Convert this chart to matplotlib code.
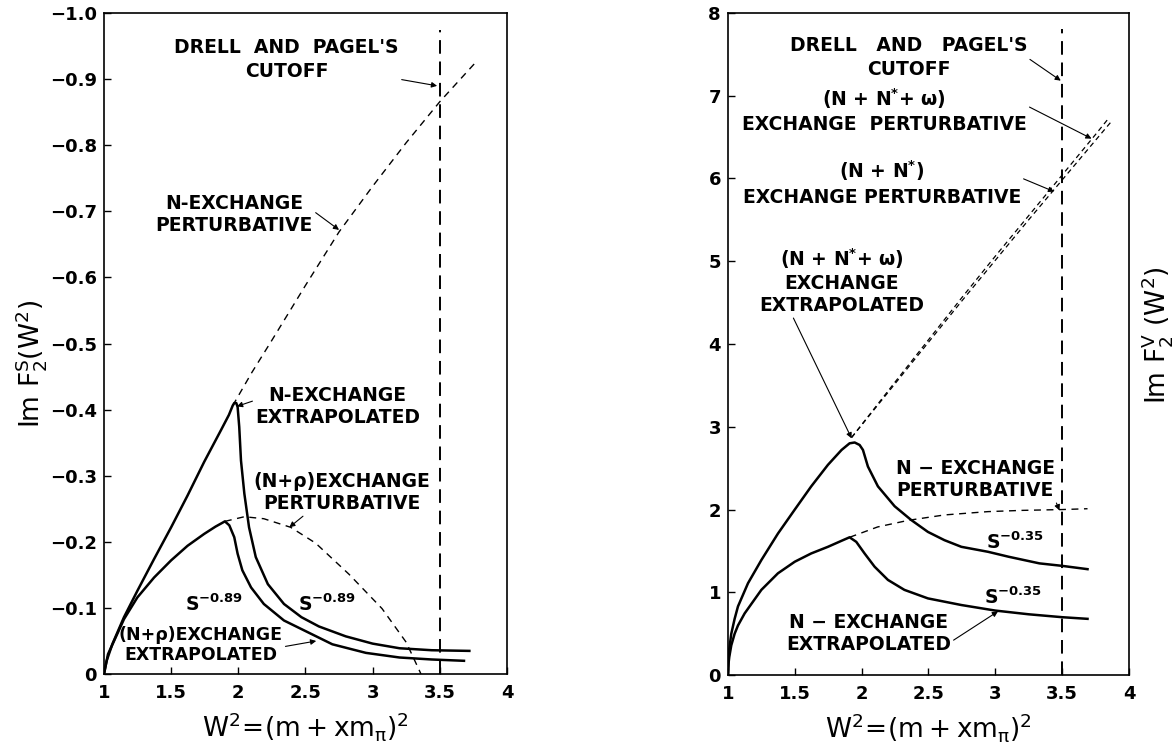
import matplotlib
matplotlib.use('Agg')
import matplotlib.pyplot as plt

plt.rcParams['font.family'] = ['DejaVu Sans']
plt.rcParams['mathtext.default'] = 'regular'

# ---- left panel: Im F2^S (values are negative, axis runs 0 -> -1.0)
x_n_ext = [1.0, 1.02, 1.062, 1.149, 1.249, 1.373, 1.5, 1.622, 1.746, 1.871, 1.93, 1.958, 1.97, 1.985,
           1.995, 2.007, 2.02, 2.045, 2.08, 2.13, 2.22, 2.34, 2.47, 2.6, 2.8, 3.0, 3.2, 3.44, 3.72]
y_n_ext = [0.0, 0.02, 0.045, 0.086, 0.126, 0.174, 0.222, 0.27, 0.321, 0.369, 0.392, 0.406, 0.41, 0.41,
           0.404, 0.374, 0.323, 0.273, 0.222, 0.177, 0.136, 0.106, 0.086, 0.072, 0.057, 0.046, 0.039, 0.036, 0.035]

x_n_pert = [1.958, 2.1, 2.25, 2.5, 2.75, 3.0, 3.25, 3.5, 3.76]
y_n_pert = [0.406, 0.456, 0.505, 0.588, 0.669, 0.738, 0.804, 0.866, 0.924]

x_nr_ext = [1.0, 1.03, 1.075, 1.149, 1.249, 1.373, 1.5, 1.622, 1.746, 1.83, 1.883, 1.9, 1.933, 1.97,
            1.995, 2.03, 2.095, 2.19, 2.34, 2.49, 2.7, 2.95, 3.2, 3.44, 3.68]
y_nr_ext = [0.0, 0.03, 0.05, 0.083, 0.116, 0.146, 0.172, 0.194, 0.212, 0.223, 0.229, 0.231, 0.225, 0.207,
            0.182, 0.157, 0.131, 0.106, 0.081, 0.066, 0.045, 0.032, 0.025, 0.022, 0.02]

x_nr_pert = [1.9, 2.045, 2.19, 2.39, 2.576, 2.824, 3.07, 3.25, 3.36]
y_nr_pert = [0.231, 0.238, 0.235, 0.222, 0.198, 0.151, 0.099, 0.048, 0.0]

# ---- right panel: Im F2^V
x_nno_ext = [1.0, 1.005, 1.01, 1.025, 1.05, 1.075, 1.15, 1.25, 1.374, 1.5, 1.623, 1.748, 1.85, 1.91,
             1.948, 1.985, 2.01, 2.047, 2.122, 2.247, 2.37, 2.496, 2.62, 2.746, 2.945, 3.1, 3.33, 3.5, 3.69]
y_nno_ext = [0.0, 0.2, 0.32, 0.5, 0.68, 0.83, 1.11, 1.39, 1.71, 2.0, 2.28, 2.54, 2.72, 2.8,
             2.81, 2.78, 2.72, 2.52, 2.28, 2.04, 1.875, 1.73, 1.63, 1.55, 1.49, 1.43, 1.35, 1.32, 1.28]

x_nv_ext = [1.0, 1.005, 1.01, 1.025, 1.05, 1.075, 1.125, 1.25, 1.374, 1.5, 1.623, 1.748, 1.86, 1.91,
            1.96, 2.022, 2.097, 2.197, 2.32, 2.496, 2.746, 3.0, 3.25, 3.5, 3.69]
y_nv_ext = [0.0, 0.15, 0.22, 0.36, 0.5, 0.6, 0.746, 1.03, 1.23, 1.37, 1.47, 1.55, 1.63, 1.665,
            1.61, 1.47, 1.31, 1.15, 1.03, 0.927, 0.847, 0.78, 0.735, 0.70, 0.68]

x_nv_pert = [1.91, 2.12, 2.35, 2.62, 2.945, 3.2, 3.5, 3.69]
y_nv_pert = [1.665, 1.79, 1.87, 1.935, 1.975, 1.99, 2.0, 2.01]

x_nns_pert = [1.925, 2.25, 2.5, 2.75, 3.0, 3.25, 3.5, 3.75, 3.87]
y_nns_pert = [2.87, 3.52, 4.02, 4.52, 5.01, 5.50, 5.98, 6.46, 6.69]
x_nnso_pert = [1.925, 2.25, 2.5, 2.75, 3.0, 3.25, 3.5, 3.75, 3.85]
y_nnso_pert = [2.87, 3.54, 4.05, 4.56, 5.06, 5.55, 6.04, 6.53, 6.73]

cutoff = 3.5
x_ticks = [1, 1.5, 2, 2.5, 3, 3.5, 4]
x_ticklabels = ['1', '1.5', '2', '2.5', '3', '3.5', '4']
yl_ticks = [0, -0.1, -0.2, -0.3, -0.4, -0.5, -0.6, -0.7, -0.8, -0.9, -1.0]
yl_ticklabels = ['0'] + ['\u2212%.1f' % abs(v) for v in yl_ticks[1:]]
yr_ticks = [0, 1, 2, 3, 4, 5, 6, 7, 8]

fig = plt.figure(figsize=(11.76, 7.51), dpi=100)
ax1 = fig.add_axes([0.0884, 0.1025, 0.3427, 0.880])
ax2 = fig.add_axes([0.619, 0.101, 0.341, 0.882])

solid = dict(color='black', lw=1.8)
dash = dict(color='black', lw=1.0, dashes=(5, 4))
tfont = dict(fontsize=13.5, fontweight='bold', color='black')
arrow = dict(arrowstyle='-|>', lw=0.8, color='black', mutation_scale=8, shrinkA=0, shrinkB=0)

# left panel
ax1.plot(x_n_ext, [-v for v in y_n_ext], **solid)
ax1.plot(x_nr_ext, [-v for v in y_nr_ext], **solid)
ax1.plot(x_n_pert, [-v for v in y_n_pert], **dash)
ax1.plot(x_nr_pert, [-v for v in y_nr_pert], **dash)
ax1.plot([cutoff, cutoff], [0, -0.975], color='black', lw=1.4, dashes=(7, 4))
ax1.set_xlim(1, 4)
ax1.set_ylim(0, -1.0)
ax1.set_yticks(yl_ticks)
ax1.set_yticklabels(yl_ticklabels)

ax1.annotate("DRELL  AND  PAGEL'S\nCUTOFF", xy=(3.48, -0.89), xytext=(2.36, -0.93),
             ha='center', va='center', linespacing=1.3, arrowprops=arrow, **tfont)
ax1.annotate("N-EXCHANGE\nPERTURBATIVE", xy=(2.75, -0.672), xytext=(1.97, -0.695),
             ha='center', va='center', linespacing=1.2,
             arrowprops=dict(arrow, relpos=(1.0, 0.6)), **tfont)
ax1.annotate("N-EXCHANGE\nEXTRAPOLATED", xy=(1.99, -0.405), xytext=(2.74, -0.405),
             ha='center', va='center', linespacing=1.2,
             arrowprops=dict(arrow, relpos=(0.0, 0.65)), **tfont)
ax1.annotate("(N+\u03c1)EXCHANGE\nPERTURBATIVE", xy=(2.38, -0.222), xytext=(2.77, -0.274),
             ha='center', va='center', linespacing=1.2,
             arrowprops=dict(arrow, relpos=(0.3, 0.0)), **tfont)
ax1.annotate("(N+\u03c1)EXCHANGE\nEXTRAPOLATED", xy=(2.58, -0.05), xytext=(1.72, -0.044),
             ha='center', va='center', linespacing=1.2,
             arrowprops=dict(arrow, relpos=(1.0, 0.45)),
             fontsize=12.5, fontweight='bold', color='black')
ax1.text(1.82, -0.105, r'$S^{-0.89}$', ha='center', va='center', **tfont)
ax1.text(2.66, -0.105, r'$S^{-0.89}$', ha='center', va='center', **tfont)

# right panel
ax2.plot(x_nno_ext, y_nno_ext, **solid)
ax2.plot(x_nv_ext, y_nv_ext, **solid)
ax2.plot(x_nv_pert, y_nv_pert, **dash)
ax2.plot(x_nns_pert, y_nns_pert, color='black', lw=0.9, dashes=(4, 3))
ax2.plot(x_nnso_pert, y_nnso_pert, color='black', lw=0.9, dashes=(4, 3))
ax2.plot([cutoff, cutoff], [0, 7.8], color='black', lw=1.4, dashes=(7, 4))
ax2.set_xlim(1, 4)
ax2.set_ylim(0, 8)
ax2.set_yticks(yr_ticks)

ax2.annotate("DRELL   AND   PAGEL'S\nCUTOFF", xy=(3.49, 7.18), xytext=(2.35, 7.46),
             ha='center', va='center', linespacing=1.3,
             arrowprops=dict(arrow, relpos=(1.0, 0.5)), **tfont)
ax2.annotate("(N + N$^{*}$+ \u03c9)\nEXCHANGE  PERTURBATIVE", xy=(3.72, 6.48), xytext=(2.17, 6.82),
             ha='center', va='center', linespacing=1.3,
             arrowprops=dict(arrow, relpos=(1.0, 0.6)), **tfont)
ax2.annotate("(N + N$^{*}$)\nEXCHANGE PERTURBATIVE", xy=(3.44, 5.84), xytext=(2.15, 5.95),
             ha='center', va='center', linespacing=1.3,
             arrowprops=dict(arrow, relpos=(1.0, 0.6)), **tfont)
ax2.annotate("(N + N$^{*}$+ \u03c9)\nEXCHANGE\nEXTRAPOLATED", xy=(1.925, 2.86), xytext=(1.85, 4.76),
             ha='center', va='center', linespacing=1.2,
             arrowprops=dict(arrow, relpos=(0.2, 0.0)), **tfont)
ax2.annotate("N \u2212 EXCHANGE\nPERTURBATIVE", xy=(3.48, 1.99), xytext=(2.85, 2.36),
             ha='center', va='center', linespacing=1.2,
             arrowprops=dict(arrow, relpos=(0.95, 0.5)), **tfont)
ax2.annotate("N \u2212 EXCHANGE\nEXTRAPOLATED", xy=(3.02, 0.77), xytext=(2.05, 0.5),
             ha='center', va='center', linespacing=1.2,
             arrowprops=dict(arrow, relpos=(1.0, 0.3)), **tfont)
ax2.text(3.15, 1.6, r'$S^{-0.35}$', ha='center', va='center', **tfont)
ax2.text(3.13, 0.94, r'$S^{-0.35}$', ha='center', va='center', **tfont)

for ax in (ax1, ax2):
    ax.set_xticks(x_ticks)
    ax.set_xticklabels(x_ticklabels)
    ax.tick_params(direction='in', length=5, width=1.0, labelsize=13, pad=7)
    ax.tick_params(axis='y', pad=5)
    for lab in ax.get_xticklabels() + ax.get_yticklabels():
        lab.set_fontweight('bold')
    for sp in ax.spines.values():
        sp.set_linewidth(1.2)
    ax.set_xlabel(r'$W^2\!=\!(m + xm_{\pi})^2$', fontsize=19, labelpad=6)

fig.text(0.026, 0.516, r'$Im\ F_2^S(W^2)$', rotation=90, ha='center', va='center', fontsize=19)
fig.text(0.984, 0.554, r'$Im\ F_2^V\ (W^2)$', rotation=90, ha='center', va='center', fontsize=19)

plt.savefig('out.png', dpi=100)
